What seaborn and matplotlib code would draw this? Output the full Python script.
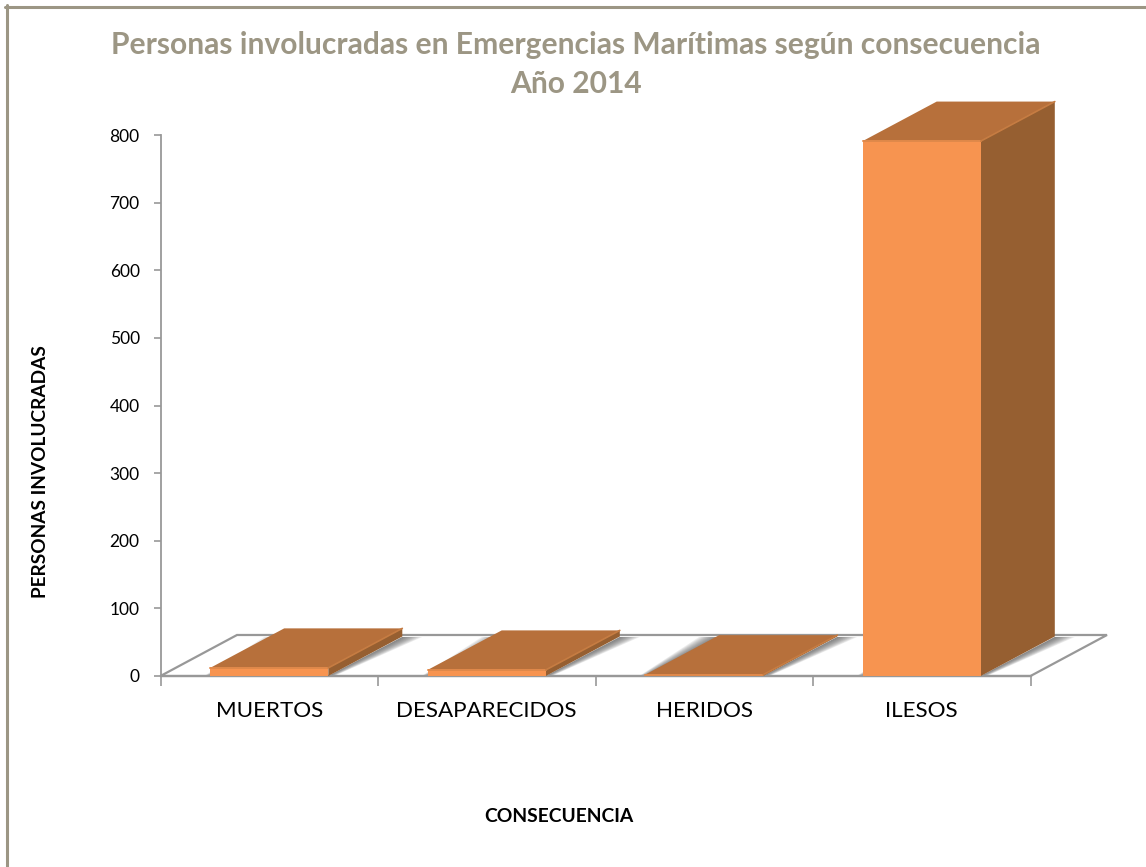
import matplotlib
matplotlib.use("Agg")
import matplotlib.pyplot as plt
from matplotlib.lines import Line2D
from matplotlib.patches import Polygon
import pandas as pd
import seaborn as sns

categorias = ["MUERTOS", "DESAPARECIDOS", "HERIDOS", "ILESOS"]
personas = [12, 9, 2, 791]
ticks_y = [0, 100, 200, 300, 400, 500, 600, 700, 800]

W, H = 1146, 867
FRONT = "#f79450"
TOP = "#b7703b"
SIDE = "#965f31"
AXIS = "#989898"
TAN = "#9c9684"

# profundidad del falso 3D, en unidades de datos
PX_X = 217.5
PX_Y = 0.676
DX = 74 / PX_X
DY = 39.5 / PX_Y
SUELO_DX = 76.5 / PX_X
SUELO_DY = 41 / PX_Y

sns.set_theme(style="white")
plt.rcParams["font.family"] = ["Lato", "DejaVu Sans"]

fig = plt.figure(figsize=(W / 100, H / 100), dpi=100)
ax = fig.add_axes([160.5 / W, 1 - 676 / H, 870 / W, 541 / H])

df = pd.DataFrame({"consecuencia": categorias, "personas": personas})
sns.barplot(data=df, x="consecuencia", y="personas", color=FRONT, saturation=1,
            width=0.543, linewidth=0, ax=ax, zorder=5)
ax.set_xlim(-0.5, 3.5)
ax.set_ylim(0, 800)

# suelo
ax.add_patch(Polygon([(-0.5, 0), (-0.5 + SUELO_DX, SUELO_DY), (3.5 + SUELO_DX, SUELO_DY), (3.5, 0)],
                     closed=True, fc="white", ec=AXIS, lw=1.6, clip_on=False, zorder=1))

for bar in ax.patches[:4]:
    x0 = bar.get_x()
    x1 = x0 + bar.get_width()
    h = bar.get_height()
    # sombra difusa a los dos lados, mas ancha hacia el fondo
    for k in range(10):
        s = (2 + k * 2.0) / PX_X
        for xb, signo in [(x1, 1), (x0, -1)]:
            ax.add_patch(Polygon([(xb, 0), (xb + signo * s * 0.3, 0),
                                  (xb + DX + signo * s, SUELO_DY - 2 / PX_Y), (xb + DX, SUELO_DY - 2 / PX_Y)],
                                 closed=True, fc="#555555", ec="none", alpha=0.11,
                                 clip_on=False, zorder=2))
    ax.add_patch(Polygon([(x1, 0), (x1 + DX, DY), (x1 + DX, h + DY), (x1, h)], closed=True,
                         fc=SIDE, ec="none", clip_on=False, zorder=4))
    ax.add_patch(Polygon([(x0, h), (x1, h), (x1 + DX, h + DY), (x0 + DX, h + DY)], closed=True,
                         fc=TOP, ec="none", clip_on=False, zorder=4))
    # bisel del borde
    ax.plot([x0, x1], [h, h], color="#e0894a", lw=1.4, solid_capstyle="round",
            clip_on=False, zorder=6)
    ax.plot([x1, x1 + DX], [h, h + DY], color="#c67c42", lw=1.2, solid_capstyle="round",
            clip_on=False, zorder=6)

sns.despine(ax=ax, top=True, right=True)
ax.spines["left"].set_color(AXIS)
ax.spines["left"].set_linewidth(1.3)
ax.spines["bottom"].set_color(AXIS)
ax.spines["bottom"].set_linewidth(1.6)
ax.spines["bottom"].set_zorder(3)

ax.set_yticks(ticks_y)
ax.tick_params(axis="y", length=5, width=1.2, color=AXIS, labelsize=12.5, pad=10,
               labelcolor="black", left=True)
ax.set_xticks([-0.5, 0.5, 1.5, 2.5, 3.5])
ax.set_xticks(range(4), minor=True)
ax.set_xticklabels([])
ax.set_xticklabels(categorias, minor=True)
ax.tick_params(axis="x", which="major", length=7, width=1.2, color=AXIS, bottom=True)
ax.tick_params(axis="x", which="minor", length=0, labelsize=16.1, pad=18, labelcolor="black")

ax.set_xlabel("")
ax.set_ylabel("")
fig.text(559 / W, 1 - 816 / H, "CONSECUENCIA", ha="center", va="center",
         fontsize=13.9, fontweight="bold", color="black")
fig.text(41 / W, 1 - 472 / H, "PERSONAS INVOLUCRADAS", ha="center", va="center",
         rotation=90, fontsize=13.7, fontweight="bold", color="black")

fig.text(576 / W, 1 - 45 / H, "Personas involucradas en Emergencias Marítimas según consecuencia",
         ha="center", va="center", fontsize=21.6, fontweight="bold", color=TAN)
fig.text(576 / W, 1 - 84 / H, "Año 2014", ha="center", va="center",
         fontsize=21.6, fontweight="bold", color=TAN)

# marco: solo arriba y a la izquierda
fig.add_artist(Line2D([6.5 / W, 6.5 / W], [0, 1 - 5 / H], color=TAN, lw=2.2))
fig.add_artist(Line2D([5 / W, 1], [1 - 6.5 / H, 1 - 6.5 / H], color=TAN, lw=2.2))

fig.savefig("out.png", dpi=100)
